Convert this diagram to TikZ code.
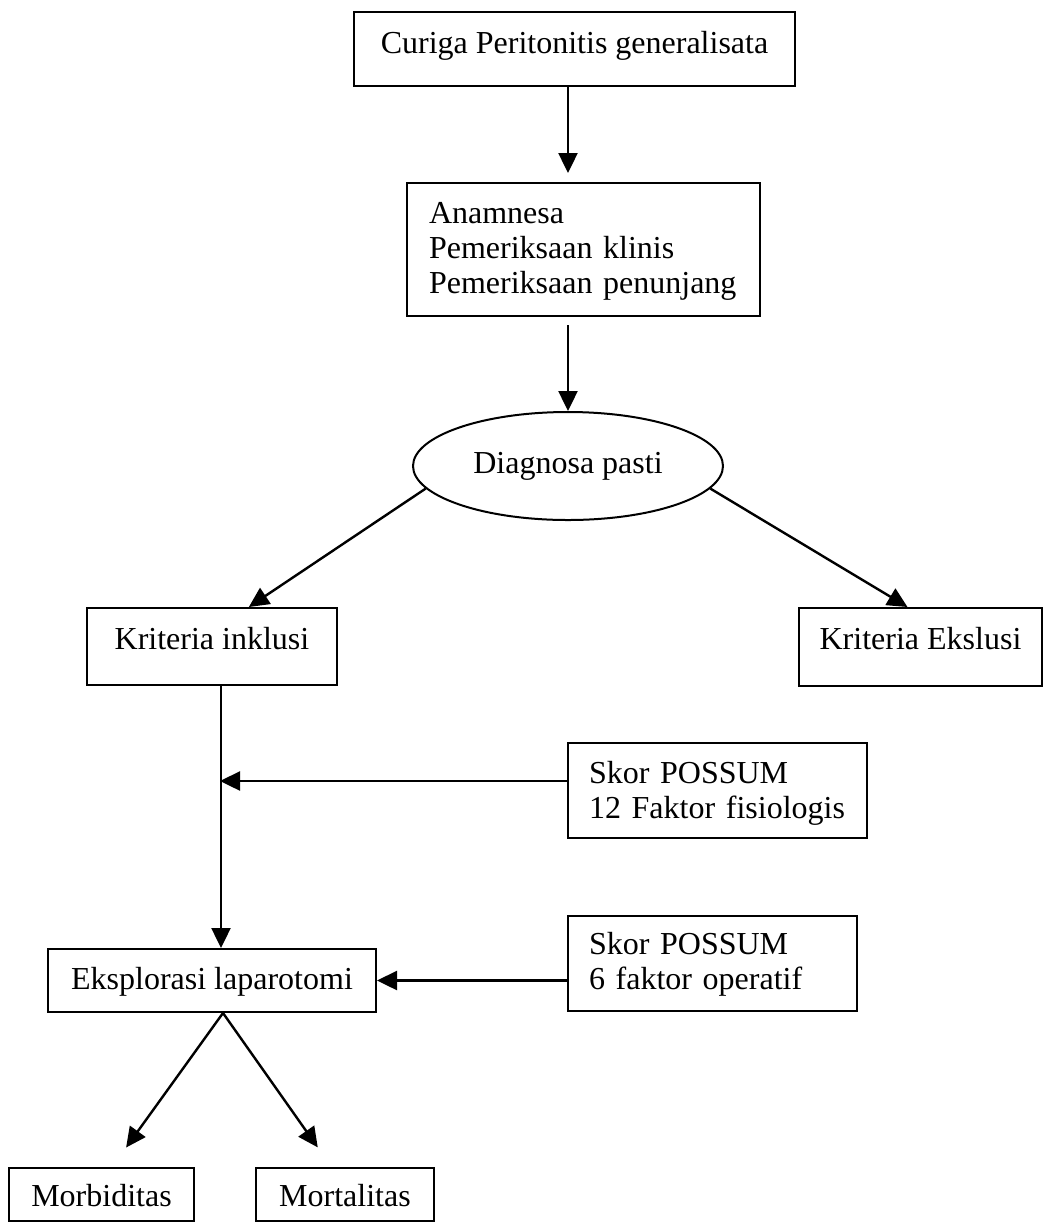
\documentclass[tikz,border=0pt]{standalone}
\usepackage{fontspec}
\setmainfont{Liberation Serif}
\usetikzlibrary{arrows.meta,shapes.geometric}
\begin{document}
\begin{tikzpicture}[x=0.5pt,y=-0.5pt,line width=1pt,
        font=\fontsize{16}{17.5}\selectfont,
        kotak/.style={draw,anchor=north west,inner sep=0pt},
        banyak/.style={kotak,align=left},
        panah/.style={line width=1.2pt,
            -{Triangle[length=10pt,width=9.5pt]}}]
            \useasboundingbox (0,0) rectangle (1045,1223);
            \node[kotak,minimum width=220.5pt,
                  text height=20.5pt,text depth=16.5pt]
                (curiga) at (353,11) {Curiga Peritonitis generalisata};
            \node[banyak,inner xsep=11pt,text width=154.5pt,
                  text height=20pt,text depth=46.5pt]
                (anam) at (406,182)
                {Anamnesa\\Pemeriksaan klinis\\Pemeriksaan penunjang};
            \node[ellipse,draw,minimum width=155pt,minimum height=54pt,
                  inner sep=0pt]
                (diag) at (568,466) {Diagnosa pasti};
            \node[kotak,minimum width=125pt,
                  text height=20.5pt,text depth=18pt]
                (inkl) at (86,607) {Kriteria inklusi};
            \node[kotak,minimum width=121.5pt,
                  text height=20.5pt,text depth=18.5pt]
                (ekskl) at (798,607) {Kriteria Ekslusi};
            \node[banyak,inner xsep=10.5pt,text width=128.5pt,
                  text height=20pt,text depth=27.5pt]
                (skor1) at (567,742) {Skor POSSUM\\12 Faktor fisiologis};
            \node[banyak,inner xsep=10.5pt,text width=123.5pt,
                  text height=19pt,text depth=28.5pt]
                (skor2) at (567,915) {Skor POSSUM\\6 faktor operatif};
            \node[kotak,minimum width=164pt,
                  text height=20pt,text depth=11.5pt]
                (eksplor) at (47,948) {Eksplorasi laparotomi};
            \node[kotak,minimum width=92.5pt,
                  text height=19pt,text depth=7.5pt]
                (morbid) at (8,1167) {Morbiditas};
            \node[kotak,minimum width=89pt,
                  text height=19pt,text depth=7.5pt]
                (mortal) at (255,1167) {Mortalitas};
            % panah
            \draw[panah,shorten >=4.5pt]
                (curiga.south -| diag.north)--(anam.north -| diag.north);
            \draw[panah,shorten <=4pt]
                (anam.south -| diag.north)--(diag.north);
            \draw[panah] (diag.189)--(inkl.47);
            \draw[panah] (diag.351)--(ekskl.108);
            \coordinate (sambung) at (220,781);
            \draw[panah]
                ([xshift=4.5pt]inkl.south)--([xshift=4.5pt]eksplor.north);
            \draw[panah] (skor1.west |- sambung)--(sambung);
            \draw[panah] (skor2.west |- eksplor.east)--(eksplor.east);
            \draw[panah,shorten >=12pt]
                ([xshift=5.5pt]eksplor.south)--(morbid.69);
            \draw[panah,shorten >=12pt]
                ([xshift=5.5pt]eksplor.south)--(mortal.116);
            \end{tikzpicture}
\end{document}
